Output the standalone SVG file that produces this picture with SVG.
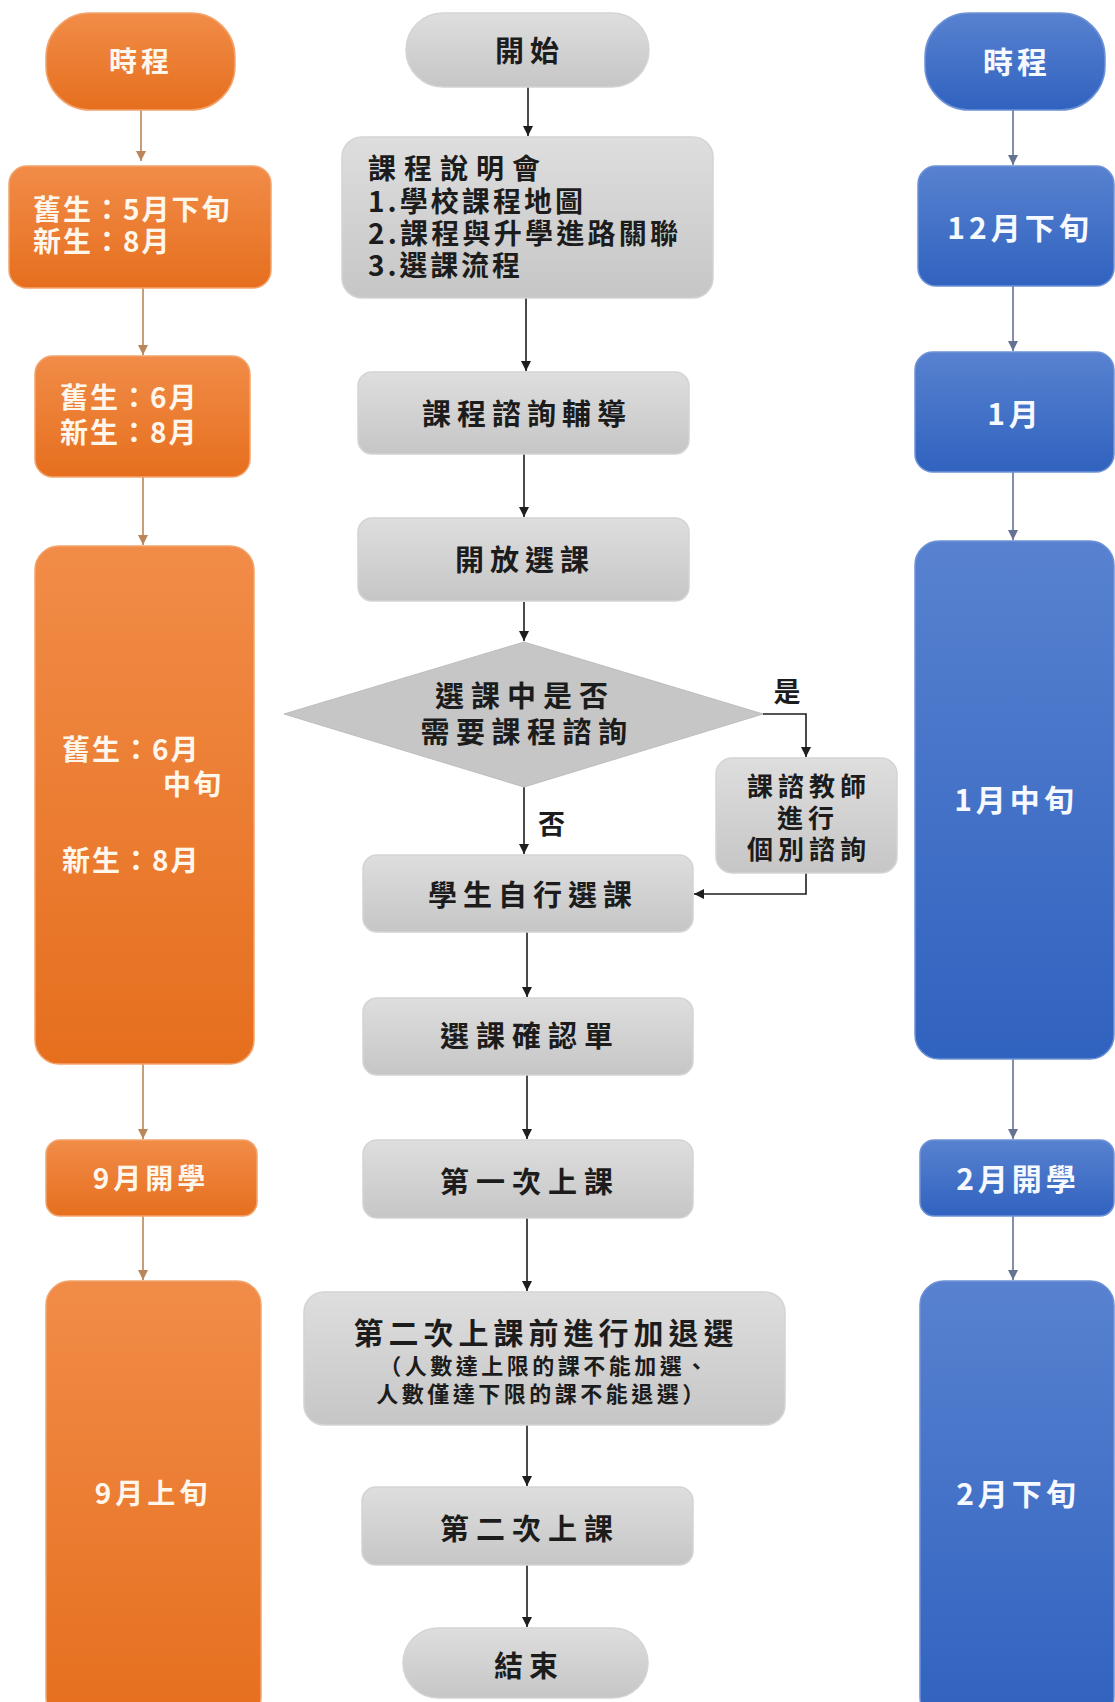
<svg xmlns="http://www.w3.org/2000/svg" width="1115" height="1702" viewBox="0 0 1115 1702">
<defs>
<linearGradient id="gOr" x1="0" y1="0" x2="0" y2="1"><stop offset="0" stop-color="#F18C48"/><stop offset="1" stop-color="#E66F1E"/></linearGradient>
<linearGradient id="gBl" x1="0" y1="0" x2="0" y2="1"><stop offset="0" stop-color="#5882D0"/><stop offset="1" stop-color="#3062BF"/></linearGradient>
<linearGradient id="gGr" x1="0" y1="0" x2="0" y2="1"><stop offset="0" stop-color="#DEDEDE"/><stop offset="1" stop-color="#C6C6C6"/></linearGradient>
<marker id="aK" viewBox="0 0 10 10" refX="10" refY="5" markerWidth="11" markerHeight="10" markerUnits="userSpaceOnUse" orient="auto"><path d="M0,0 L10,5 L0,10 Z" fill="#1E1E1E"/></marker>
<marker id="aO" viewBox="0 0 10 10" refX="10" refY="5" markerWidth="10" markerHeight="10" markerUnits="userSpaceOnUse" orient="auto"><path d="M0,0 L10,5 L0,10 Z" fill="#B98559"/></marker>
<marker id="aB" viewBox="0 0 10 10" refX="10" refY="5" markerWidth="10" markerHeight="10" markerUnits="userSpaceOnUse" orient="auto"><path d="M0,0 L10,5 L0,10 Z" fill="#637391"/></marker>
</defs>
<style>
text{font-family:"Noto Sans CJK TC","Noto Sans CJK SC","Noto Sans",sans-serif;font-weight:bold;dominant-baseline:central}
.or{fill:url(#gOr);stroke:#F2A46C;stroke-width:1.5}
.bl{fill:url(#gBl);stroke:#6E92D6;stroke-width:1.5}
.gr{fill:url(#gGr);stroke:#D4D4D4;stroke-width:1.5}
.dm{fill:#C6C6C6;stroke:#BDBDBD;stroke-width:1}
.wt{fill:#FFF6EC;font-size:28px;letter-spacing:2px}
.wb{fill:#F6F9FF;font-size:30px;letter-spacing:4px}
.k{fill:#1C1C1C;font-size:29px;letter-spacing:6px}
.kb{fill:#1C1C1C;font-size:28px}
.ks{fill:#1C1C1C;font-size:22px;letter-spacing:3.5px}
.c{text-anchor:middle}
.lk{stroke:#1E1E1E;stroke-width:1.6;fill:none;marker-end:url(#aK)}
.lo{stroke:#B98559;stroke-width:1.6;fill:none;marker-end:url(#aO)}
.lb{stroke:#637391;stroke-width:1.6;fill:none;marker-end:url(#aB)}
</style>
<rect width="1115" height="1702" fill="#FFFFFF"/>

<g id="connectors">
<line class="lo" x1="141" y1="110" x2="141" y2="161"/>
<line class="lo" x1="143" y1="288" x2="143" y2="355"/>
<line class="lo" x1="143" y1="477" x2="143" y2="545"/>
<line class="lo" x1="143" y1="1064" x2="143" y2="1139"/>
<line class="lo" x1="143" y1="1216" x2="143" y2="1280"/>
<line class="lb" x1="1013" y1="110" x2="1013" y2="165"/>
<line class="lb" x1="1013" y1="286" x2="1013" y2="351"/>
<line class="lb" x1="1013" y1="472" x2="1013" y2="540"/>
<line class="lb" x1="1013" y1="1059" x2="1013" y2="1139"/>
<line class="lb" x1="1013" y1="1216" x2="1013" y2="1280"/>
<line class="lk" x1="528" y1="87" x2="528" y2="136"/>
<line class="lk" x1="526" y1="298" x2="526" y2="371"/>
<line class="lk" x1="524" y1="454" x2="524" y2="517"/>
<line class="lk" x1="524" y1="602" x2="524" y2="641"/>
<polyline class="lk" points="763,714 806,714 806,757"/>
<line class="lk" x1="524" y1="787" x2="524" y2="854"/>
<polyline class="lk" points="806,873 806,894 694,894"/>
<line class="lk" x1="527" y1="932" x2="527" y2="997"/>
<line class="lk" x1="527" y1="1075" x2="527" y2="1139"/>
<line class="lk" x1="527" y1="1218" x2="527" y2="1291"/>
<line class="lk" x1="527" y1="1425" x2="527" y2="1486"/>
<line class="lk" x1="527" y1="1565" x2="527" y2="1627"/>
<text class="k c" x="787" y="690" style="letter-spacing:0;font-size:27px">是</text>
<text class="k" x="538" y="822" style="letter-spacing:0;font-size:27px">否</text>
</g>

<g id="left-header"><rect class="or" x="46" y="13" width="189" height="97" rx="44"/><text class="wt c" x="141" y="60" style="letter-spacing:4px">時程</text></g>
<g id="left-1"><rect class="or" x="9" y="166" width="262" height="122" rx="18"/><text class="wt" x="33" y="208">舊生：5月下旬</text><text class="wt" x="33" y="240">新生：8月</text></g>
<g id="left-2"><rect class="or" x="35" y="356" width="215" height="121" rx="18"/><text class="wt" x="60" y="396">舊生：6月</text><text class="wt" x="60" y="431">新生：8月</text></g>
<g id="left-3"><rect class="or" x="35" y="546" width="219" height="518" rx="24"/><text class="wt" x="62" y="748">舊生：6月</text><text class="wt" x="223" y="783" text-anchor="end">中旬</text><text class="wt" x="62" y="859">新生：8月</text></g>
<g id="left-4"><rect class="or" x="46" y="1140" width="211" height="76" rx="14"/><text class="wt c" x="151" y="1177" style="letter-spacing:4px">9月開學</text></g>
<g id="left-5"><rect class="or" x="46" y="1281" width="215" height="440" rx="24"/><text class="wt c" x="153" y="1492" style="letter-spacing:4px">9月上旬</text></g>

<g id="right-header"><rect class="bl" x="925" y="13" width="180" height="97" rx="44"/><text class="wb c" x="1017" y="60">時程</text></g>
<g id="right-1"><rect class="bl" x="918" y="166" width="196" height="120" rx="18"/><text class="wb c" x="1020" y="226">12月下旬</text></g>
<g id="right-2"><rect class="bl" x="915" y="352" width="199" height="120" rx="18"/><text class="wb c" x="1015" y="412">1月</text></g>
<g id="right-3"><rect class="bl" x="915" y="541" width="199" height="518" rx="24"/><text class="wb c" x="1016" y="798">1月中旬</text></g>
<g id="right-4"><rect class="bl" x="920" y="1140" width="194" height="76" rx="14"/><text class="wb c" x="1018" y="1177">2月開學</text></g>
<g id="right-5"><rect class="bl" x="920" y="1281" width="194" height="440" rx="24"/><text class="wb c" x="1018" y="1492">2月下旬</text></g>

<g id="start"><rect class="gr" x="406" y="13" width="243" height="74" rx="37"/><text class="k c" x="530" y="49">開始</text></g>
<g id="briefing"><rect class="gr" x="342" y="137" width="371" height="161" rx="20"/>
<text class="kb" x="368" y="167" textLength="172" lengthAdjust="spacing">課程說明會</text>
<text class="kb" x="368" y="200" textLength="215" lengthAdjust="spacing">1.學校課程地圖</text>
<text class="kb" x="368" y="232" textLength="310" lengthAdjust="spacing">2.課程與升學進路關聯</text>
<text class="kb" x="368" y="264" textLength="152" lengthAdjust="spacing">3.選課流程</text></g>
<g id="counseling"><rect class="gr" x="358" y="372" width="331" height="82" rx="14"/><text class="k c" x="527" y="412">課程諮詢輔導</text></g>
<g id="open"><rect class="gr" x="358" y="518" width="331" height="83" rx="14"/><text class="k c" x="525" y="558">開放選課</text></g>
<g id="decision"><polygon class="dm" points="284,714 524,642 763,714 524,787"/><text class="k c" x="525" y="694" style="letter-spacing:7px">選課中是否</text><text class="k c" x="527" y="730" style="letter-spacing:6.5px">需要課程諮詢</text></g>
<g id="teacher"><rect class="gr" x="716" y="758" width="181" height="115" rx="16"/><text class="k c" x="809" y="784" style="font-size:26px;letter-spacing:5px">課諮教師</text><text class="k c" x="808" y="816" style="font-size:26px;letter-spacing:5px">進行</text><text class="k c" x="809" y="847" style="font-size:26px;letter-spacing:5px">個別諮詢</text></g>
<g id="self-select"><rect class="gr" x="363" y="855" width="330" height="77" rx="14"/><text class="k c" x="533" y="893">學生自行選課</text></g>
<g id="confirm"><rect class="gr" x="363" y="998" width="330" height="77" rx="14"/><text class="k c" x="530" y="1034" style="letter-spacing:7px">選課確認單</text></g>
<g id="first-class"><rect class="gr" x="363" y="1140" width="330" height="78" rx="14"/><text class="k c" x="530" y="1180" style="letter-spacing:7px">第一次上課</text></g>
<g id="add-drop"><rect class="gr" x="304" y="1292" width="481" height="133" rx="20"/>
<text class="k c" x="546" y="1331" style="font-size:30px;letter-spacing:5px">第二次上課前進行加退選</text>
<text class="ks c" x="545" y="1364">（人數達上限的課不能加選、</text>
<text class="ks c" x="542" y="1392">人數僅達下限的課不能退選）</text></g>
<g id="second-class"><rect class="gr" x="362" y="1487" width="331" height="78" rx="14"/><text class="k c" x="530" y="1527" style="letter-spacing:7px">第二次上課</text></g>
<g id="end"><rect class="gr" x="403" y="1628" width="245" height="70" rx="35"/><text class="k c" x="529" y="1664">結束</text></g>
</svg>
